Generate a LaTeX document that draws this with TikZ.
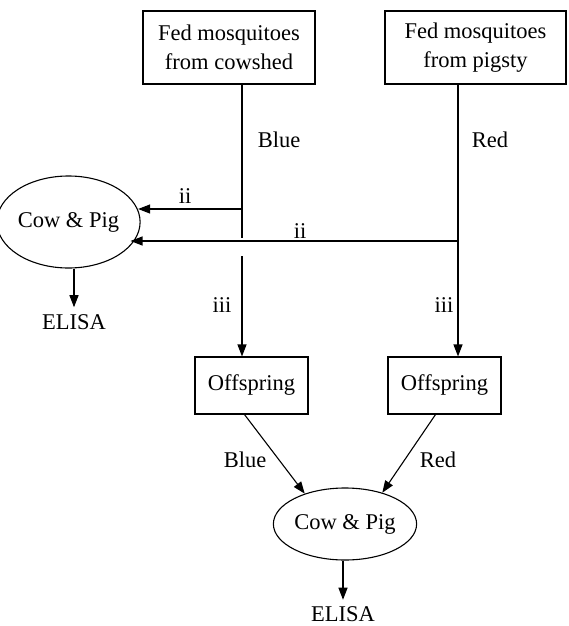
\documentclass[tikz,border=0pt]{standalone}
\usepackage{fontspec}
\setmainfont{Liberation Serif}
\usetikzlibrary{shapes.geometric,arrows.meta}
\begin{document}
\begin{tikzpicture}[x=1pt,y=-1pt,
  every node/.style={font=\fontsize{22.5}{29}\selectfont},
  box/.style={draw,line width=1.1pt,inner sep=0pt,align=center},
  oval/.style={draw,ellipse,line width=1.1pt,inner sep=0pt},
  lbl/.style={inner sep=0pt},
  conn/.style={line width=1.1pt},
  arr/.style={conn,-{Triangle[length=12pt,width=9pt]}}]
\useasboundingbox (0,0) rectangle (568,626);
% boxes
\node[box,minimum width=172pt,minimum height=73pt] (b1) at (229,47.5) {Fed mosquitoes\\from cowshed};
\node[box,minimum width=181pt,minimum height=73pt] (b2) at (475.5,47.5) {Fed mosquitoes\\from pigsty};
\node[oval,minimum width=123pt,minimum height=92pt] (cp1) at (68.5,222) {Cow \& Pig};
\node[lbl,inner sep=7pt] (e1) at (74,322) {ELISA};
\node[box,minimum width=113pt,minimum height=57pt] (o1) at (251.5,385.5) {Offspring};
\node[box,minimum width=113pt,minimum height=57pt] (o2) at (444.5,385.5) {Offspring};
\node[oval,minimum width=120pt,minimum height=72pt] (cp2) at (345,524) {Cow \& Pig};
\node[lbl,inner sep=7pt] (e2) at (343,614.5) {ELISA};
% labels
\node[lbl] (lb1) at (279,140) {Blue};
\node[lbl] (lr1) at (490,140) {Red};
\node[lbl] (li1) at (185,196) {ii};
\node[lbl] (li2) at (300,231) {ii};
\node[lbl] (lt1) at (222,305) {iii};
\node[lbl] (lt2) at (444,305) {iii};
\node[lbl] (lb2) at (245,460) {Blue};
\node[lbl] (lr2) at (438,460) {Red};
% coordinates
\coordinate (j1) at (242,209);
\coordinate (g1) at (242,238);
\coordinate (g2) at (242,256);
\coordinate (j2) at (458,241);
% connectors
\draw[conn] (b1.south -| j1) -- (g1);
\draw[arr] (g2) -- (o1.north -| g2);
\draw[arr] (b2.south -| j2) -- (o2.north -| j2);
\draw[arr] (j1) -- (j1 -| cp1.10);
\draw[arr] (j2) -- (j2 -| cp1.-21);
\draw[arr] (cp1.south -| e1) -- (e1.north);
\draw[arr] ([xshift=-7pt]o1.south) -- (cp2.143);
\draw[arr] ([xshift=-9pt]o2.south) -- (cp2.40);
\draw[arr] (cp2.south -| e2) -- (e2.north);
\end{tikzpicture}
\end{document}
